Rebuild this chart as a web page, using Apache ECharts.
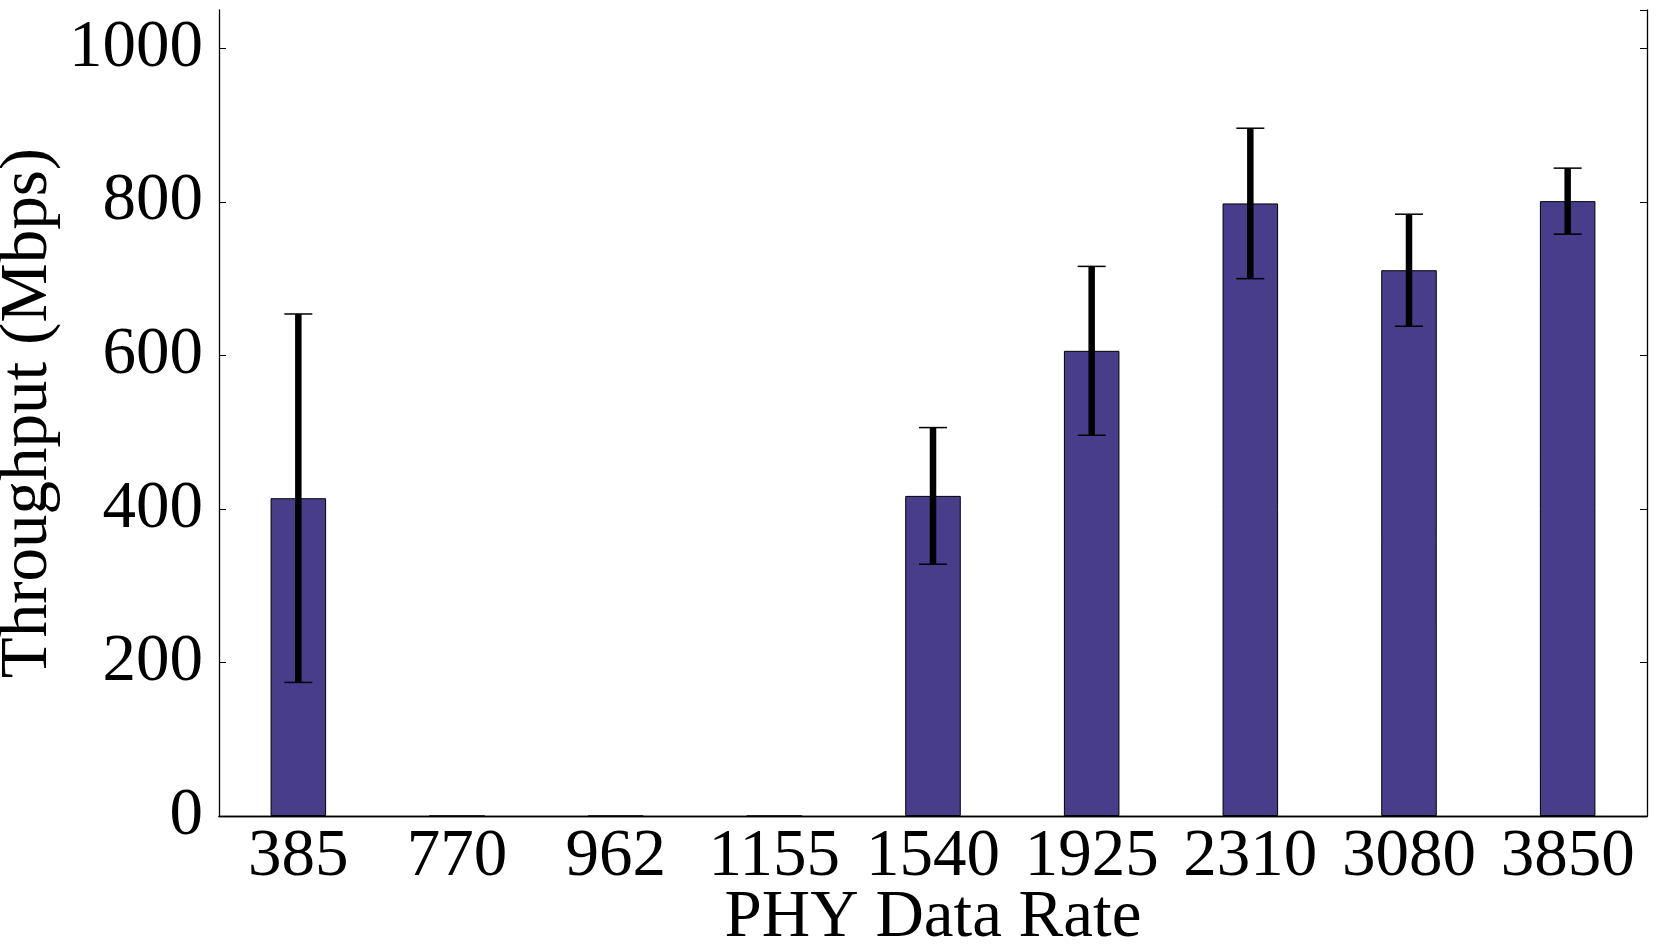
<!DOCTYPE html>
<html>
<head>
<meta charset="utf-8">
<title>Throughput vs PHY Data Rate</title>
<script src="https://cdn.jsdelivr.net/npm/echarts@6/dist/echarts.min.js"></script>
<style>
  html, body { margin: 0; padding: 0; background: #fff; }
  #chart { width: 1680px; height: 949px; }
</style>
</head>
<body>
<div id="chart"></div>
<script>
// PHY data rates (x categories)
const rates = ['385', '770', '962', '1155', '1540', '1925', '2310', '3080', '3850'];
// mean throughput (Mbps)
const throughput = [414, 0, 0, 0, 417, 606, 798, 711, 801];
// error (+/-) around the mean, null = no error bar
const errors = [240, null, null, null, 89, 110, 98, 73, 43];
const yTicks = { min: 0, max: 1050, interval: 200 };

const fontName = '"Liberation Serif", "DejaVu Serif", serif';
const errData = [];
throughput.forEach((v, i) => {
    if (errors[i] != null) {
        errData.push([i, v - errors[i], v + errors[i]]);
    }
});

const chart = echarts.init(document.getElementById('chart'));

const option = {
    animation: false,
    textStyle: { fontFamily: fontName, color: '#000' },
    grid: { left: 219, right: 33, top: 10, bottom: 133, show: false, containLabel: false, outerBoundsMode: 'none' },
    xAxis: [
        {
            type: 'category',
            data: rates,
            position: 'bottom',
            name: 'PHY Data Rate',
            nameLocation: 'middle',
            nameGap: 69,
            nameMoveOverlap: false,
            nameTextStyle: { fontSize: 67, fontFamily: fontName, color: '#000' },
            axisLine: { lineStyle: { color: '#000', width: 1.3 } },
            axisTick: { inside: true, alignWithLabel: true, length: 7, lineStyle: { color: '#000' } },
            axisLabel: { interval: 0, hideOverlap: false, fontSize: 67, fontFamily: fontName, color: '#000', margin: 8 },
            splitLine: { show: false }
        },
        {
            type: 'category',
            data: rates,
            position: 'top',
            axisLine: { lineStyle: { color: '#000', width: 1.3 } },
            axisTick: { inside: true, alignWithLabel: true, interval: 0, length: 7, lineStyle: { color: '#000' } },
            axisLabel: { show: false },
            splitLine: { show: false }
        }
    ],
    yAxis: [
        {
            type: 'value',
            min: yTicks.min,
            max: yTicks.max,
            interval: yTicks.interval,
            name: 'Throughput (Mbps)',
            nameLocation: 'middle',
            nameGap: 157,
            nameMoveOverlap: false,
            nameTextStyle: { fontSize: 67, fontFamily: fontName, color: '#000' },
            axisLine: { show: true, lineStyle: { color: '#000', width: 1.3 } },
            axisTick: { show: true, inside: true, length: 7, lineStyle: { color: '#000' } },
            axisLabel: {
                fontSize: 67, fontFamily: fontName, color: '#000', margin: 16, showMaxLabel: false,
                formatter: v => String(v)
            },
            splitLine: { show: false }
        },
        {
            type: 'value',
            position: 'right',
            min: yTicks.min,
            max: yTicks.max,
            interval: yTicks.interval,
            axisLine: { show: true, lineStyle: { color: '#000', width: 1.3 } },
            axisTick: { show: true, inside: true, length: 7, lineStyle: { color: '#000' } },
            axisLabel: { show: false },
            splitLine: { show: false }
        }
    ],
    series: [
        {
            type: 'bar',
            data: throughput,
            barWidth: '35%',
            itemStyle: { color: '#483D8B', borderColor: '#000', borderWidth: 1 },
            z: 2
        },
        {
            type: 'custom',
            data: errData,
            z: 5,
            renderItem: function (params, api) {
                const x = api.value(0);
                const lo = api.coord([x, api.value(1)]);
                const hi = api.coord([x, api.value(2)]);
                const capHalf = 14;
                return {
                    type: 'group',
                    children: [
                        {
                            type: 'line',
                            shape: { x1: lo[0], y1: lo[1], x2: hi[0], y2: hi[1] },
                            style: { stroke: '#000', lineWidth: 6.5 }
                        },
                        {
                            type: 'line',
                            shape: { x1: hi[0] - capHalf, y1: hi[1], x2: hi[0] + capHalf, y2: hi[1] },
                            style: { stroke: '#000', lineWidth: 1.5 }
                        },
                        {
                            type: 'line',
                            shape: { x1: lo[0] - capHalf, y1: lo[1], x2: lo[0] + capHalf, y2: lo[1] },
                            style: { stroke: '#000', lineWidth: 1.5 }
                        }
                    ]
                };
            }
        }
    ]
};

chart.setOption(option);
window.addEventListener('resize', () => {
    chart.resize();
});
</script>
</body>
</html>
